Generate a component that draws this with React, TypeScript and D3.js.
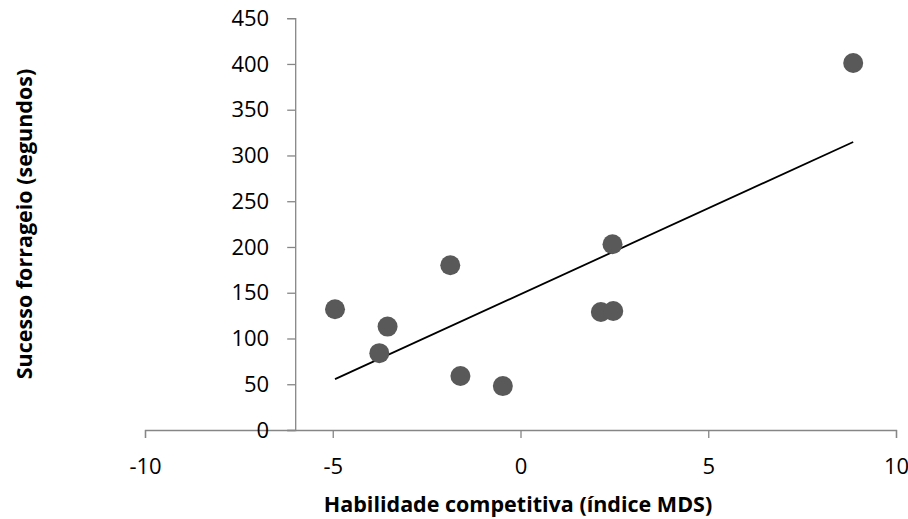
import React, { useEffect, useRef } from 'react';
import * as d3 from 'd3';

// habilidade competitiva (MDS) vs sucesso forrageio (s)
const habilidade = [-4.94, -3.54, -3.76, -1.6, -0.47, -1.87, 2.45, 2.14, 2.47, 8.86];
const sucesso = [132, 113, 84, 59, 48, 180, 203, 129, 130, 401];
const xTicks = [-10, -5, 0, 5, 10];
const yTicks = [0, 50, 100, 150, 200, 250, 300, 350, 400, 450];

const App = () => {
  const svgRef = useRef<SVGSVGElement>(null);

  useEffect(() => {
    const svg = d3.select(svgRef.current);
    svg.selectAll('*').remove();

    const font = '"Open Sans", sans-serif';
    const axisColor = '#868686';

    const x = d3.scaleLinear().domain([-10, 10]).range([145, 896]);
    const y = d3.scaleLinear().domain([0, 450]).range([430, 18.2]);

    // y axis crosses at x = -6
    const xAxis = d3.axisBottom(x).tickValues(xTicks).tickSize(8).tickFormat(d => String(d));
    const gx = svg.append('g').attr('transform', `translate(0,${y(0)})`).call(xAxis);
    gx.select('.domain').attr('stroke', axisColor).attr('stroke-width', 1.3);
    gx.selectAll('.tick line').attr('stroke', axisColor).attr('stroke-width', 1.3);
    gx.selectAll('.tick text')
      .attr('font-family', font).attr('font-size', 22).attr('fill', '#000')
      .attr('y', 36).attr('dy', '0.35em');

    const yAxis = d3.axisLeft(y).tickValues(yTicks).tickSize(8);
    const gy = svg.append('g').attr('transform', `translate(${x(-6)},0)`).call(yAxis);
    gy.select('.domain').attr('stroke', axisColor).attr('stroke-width', 1.3);
    gy.selectAll('.tick line').attr('stroke', axisColor).attr('stroke-width', 1.3);
    gy.selectAll('.tick text')
      .attr('font-family', font).attr('font-size', 22).attr('fill', '#000')
      .attr('x', -26);

    // linear trend line
    const pts = habilidade.map((v, i) => [v, sucesso[i]] as [number, number]);
    const mx = d3.mean(pts, d => d[0]) as number;
    const my = d3.mean(pts, d => d[1]) as number;
    const sxy = d3.sum(pts, d => (d[0] - mx) * (d[1] - my));
    const sxx = d3.sum(pts, d => (d[0] - mx) ** 2);
    const slope = sxy / sxx;
    const icpt = my - slope * mx;
    const [x0, x1] = d3.extent(habilidade) as [number, number];
    svg.append('path')
      .attr('d', d3.line<number>().x(d => x(d)).y(d => y(icpt + slope * d))([x0, x1]))
      .attr('stroke', '#000').attr('stroke-width', 1.8).attr('fill', 'none');

    svg.append('g').selectAll('circle')
      .data(pts)
      .enter()
      .append('circle')
      .attr('cx', d => x(d[0]))
      .attr('cy', d => y(d[1]))
      .attr('r', 10)
      .attr('fill', '#595959');

    svg.append('text')
      .attr('x', 518).attr('y', 504).attr('dy', '0.35em')
      .attr('text-anchor', 'middle')
      .attr('font-family', font).attr('font-size', 21.5).attr('font-weight', 'bold')
      .text('Habilidade competitiva (índice MDS)');

    svg.append('text')
      .attr('transform', 'translate(24,224) rotate(-90)')
      .attr('dy', '0.35em')
      .attr('text-anchor', 'middle')
      .attr('font-family', font).attr('font-size', 21.5).attr('font-weight', 'bold')
      .text('Sucesso forrageio (segundos)');
  }, []);

  return (
    <svg ref={svgRef} width={908} height={519}
      style={{ position: 'absolute', left: 0, top: 0, background: '#fff' }}></svg>
  );
};

export default App;
